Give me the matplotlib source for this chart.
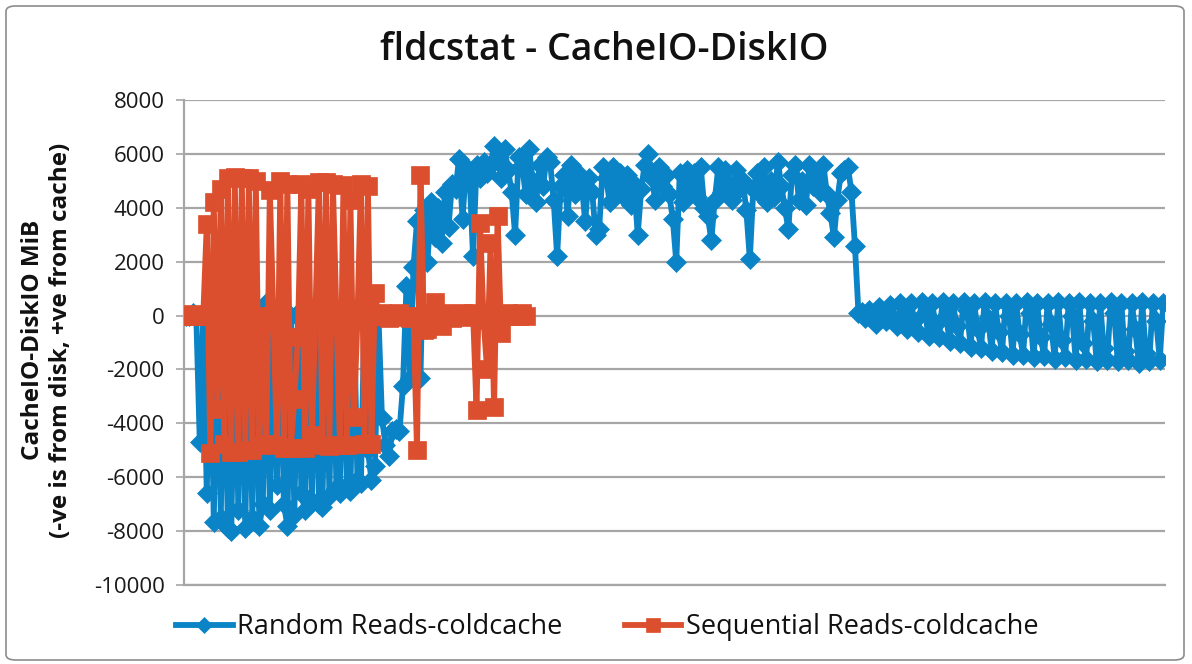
import matplotlib
matplotlib.use("Agg")
import matplotlib.pyplot as plt
from matplotlib.patches import FancyBboxPatch

title = "fldcstat - CacheIO-DiskIO"
ylabel = "CacheIO-DiskIO MiB\n(-ve is from disk, +ve from cache)"
series_names = ["Random Reads-coldcache", "Sequential Reads-coldcache"]
yticks = [-10000, -8000, -6000, -4000, -2000, 0, 2000, 4000, 6000, 8000]

random_reads = [
    0, 0, 100, 0, -4700, 0, -6600, 200, -7650, 0,
    -7500, 300, -7900, -8000, 0, -7200, 200, -7900, 0, -7500,
    300, -7800, -7000, 450, -7200, 0, -6300, 200, -7000, -7800,
    0, -7400, 100, -6600, -7200, 0, -6900, 100, -7000, -7100,
    0, -6700, 200, -6400, -6600, 100, -6300, -6500, 0, -6100,
    -6200, 0, -5000, -6100, -5600, 0, -3800, -4800, -5200, -4300,
    -4200, -4300, -2600, 1100, -2300, 1800, 3500, -2300, 3900, 2000,
    4200, 2900, 4000, 2700, 4600, 3300, 4900, 4700, 5800, 3600,
    5500, 5200, 2200, 5600, 5100, 5700, 5300, 5600, 6300, 5900,
    5100, 6200, 5400, 4600, 3000, 5900, 5600, 4500, 6200, 5000,
    4200, 5600, 4800, 5900, 5700, 4300, 2200, 4800, 5200, 3700,
    5600, 4500, 5300, 4900, 3500, 5100, 4600, 3000, 3200, 5500,
    5100, 4200, 5500, 4700, 5300, 4400, 5200, 4100, 4900, 3000,
    4700, 5600, 6000, 5100, 4300, 5500, 4800, 5200, 4500, 3600,
    2000, 5300, 4200, 5400, 4700, 5300, 4400, 5500, 4000, 3700,
    2800, 4300, 5500, 4600, 5400, 4900, 4300, 5400, 4700, 5000,
    3900, 2100, 4700, 5300, 4500, 5500, 4200, 5000, 4400, 5700,
    4800, 4000, 3200, 5200, 5600, 4300, 5000, 4100, 5600, 4800,
    5200, 4600, 5600, 4500, 3800, 2900, 4300, 5300, 5400, 5500,
    4600, 2600, 100, 150, -100, 200, 0, -300, 300, 100,
    -200, 400, -100, -400, 450, 0, -500, 450, -200, -600,
    500, 100, -750, 450, -300, -800, 500, 0, -950, 450,
    -400, -1000, 500, 200, -1150, 450, -500, -1200, 500, -100,
    -1300, 450, -600, -1350, 480, 0, -1450, 450, -700, -1450,
    500, 100, -1550, 450, -800, -1500, 480, -300, -1600, 500,
    -900, -1550, 450, 0, -1650, 500, -1000, -1600, 480, -200,
    -1700, 450, -1200, -1650, 500, 100, -1700, 480, -1300, -1650,
    450, -500, -1750, 500, -1400, -1700, 450, -200, -1650, 450,
]

sequential_reads = [
    0, 0, 50, 0, 0, 0, 3400, -5100, 4200, -3450,
    4700, -4750, 5100, -5050, 5150, -5050, 5100, -5000, 5100, -5000,
    5000, -4800, 0, -4750, 4650, 0, -4800, 5000, -4900, 4900,
    -4900, -3100, -800, 4900, -4900, 4700, -4450, 0, 4950, -4800,
    4950, -4850, 4900, 0, -4800, 4850, -4800, 4300, -3750, -150,
    4900, -4750, 4800, -4750, 850, 0, 100, 0, -100, 50,
    0, 100, -50, 0, -100, 0, -5000, 5200, -550, -500,
    100, 500, 0, -400, 100, 0, -100, 50, 0, 100,
    -50, 0, 100, -3500, 3450, -150, -2000, 2700, -3400, 3700,
    -650, 0, 100, 0, 50, 0, 100, 0,
]

BLUE = "#0A84C6"
ORANGE = "#DC4F2E"
GRID = "#A6A6A6"
FONT = ["Open Sans", "DejaVu Sans"]
plt.rcParams["font.family"] = FONT

W, H = 1192, 664
fig = plt.figure(figsize=(W / 100, H / 100), dpi=100)
ax = fig.add_axes([184 / W, 1 - 585 / H, (1165 - 184) / W, (585 - 100) / H])

n = len(random_reads)
xb = list(range(n))
xo = list(range(len(sequential_reads)))

ax.plot(xb, random_reads, color=BLUE, lw=4.2, marker="D", ms=10.5,
        mec=BLUE, mfc=BLUE, mew=0.5, label=series_names[0], zorder=3)
ax.plot(xo, sequential_reads, color=ORANGE, lw=4.2, marker="s", ms=13,
        mec=ORANGE, mfc=ORANGE, mew=0.5, label=series_names[1], zorder=4)

ax.set_xlim(-0.5, n - 0.5)
ax.set_ylim(-10000, 8000)
ax.set_yticks(yticks)
ax.set_yticklabels([str(v) for v in yticks])
ax.set_xticks([])
ax.yaxis.grid(True, color=GRID, lw=1.6)
ax.set_axisbelow(True)
for s in ["top", "right"]:
    ax.spines[s].set_visible(False)
for s in ["left", "bottom"]:
    ax.spines[s].set_color(GRID)
    ax.spines[s].set_linewidth(1.6)
ax.tick_params(axis="y", length=6, width=1.2, color=GRID, labelsize=16,
               labelcolor="#1a1a1a", pad=8)

fig.text(47 / W, 1 - 340 / H, ylabel, ha="center", va="center",
         rotation=90, fontsize=17.5, fontweight="bold", linespacing=1.2,
         color="#111111", multialignment="center")
fig.text(604 / W, 1 - 50 / H, title, ha="center", va="center",
         fontsize=27, fontweight="semibold", color="#111111")

leg = fig.legend(loc="center left", bbox_to_anchor=(176 / W, 1 - 627 / H),
                 ncol=2, frameon=False, fontsize=19.5, handlelength=2.1,
                 handletextpad=0.15, columnspacing=2.3, markerscale=0.75,
                 borderaxespad=0, borderpad=0)
for t in leg.get_texts():
    t.set_color("#111111")

border = FancyBboxPatch((6 / W, 4 / H), (W - 14) / W, (H - 10) / H,
                        boxstyle="round,pad=0,rounding_size=0.008",
                        transform=fig.transFigure, fill=False,
                        edgecolor="#8C8C8C", lw=1.2)
fig.patches.append(border)

fig.savefig("out.png", dpi=100)
